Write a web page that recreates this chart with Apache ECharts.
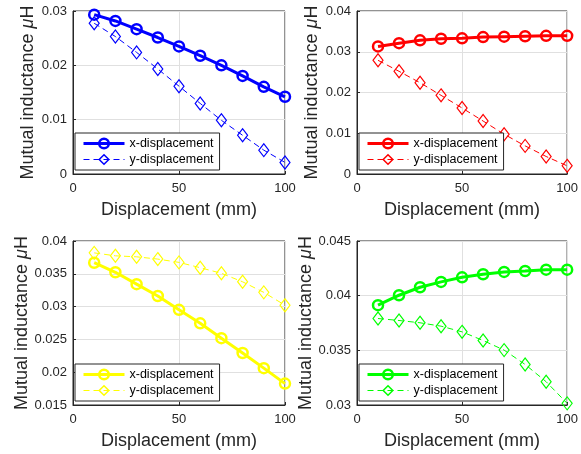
<!DOCTYPE html>
<html>
<head>
<meta charset="utf-8">
<script src="https://cdn.jsdelivr.net/npm/echarts@6/dist/echarts.min.js"></script>
<style>html,body{margin:0;padding:0;background:#fff}#c{width:581px;height:454px}</style>
</head>
<body>
<div id="c"></div>
<script>
var displacement = [10, 20, 30, 40, 50, 60, 70, 80, 90, 100];
var xTicks = [0, 50, 100];

var blueX = [0.02933, 0.02817, 0.02665, 0.02512, 0.02348, 0.02177, 0.0200, 0.01805, 0.01604, 0.01421];
var blueY = [0.02774, 0.0253, 0.02238, 0.01933, 0.01616, 0.01299, 0.00988, 0.00713, 0.00439, 0.00213];

var redX = [0.0313, 0.0321, 0.0328, 0.0332, 0.0333, 0.0336, 0.0337, 0.0338, 0.0339, 0.0339];
var redY = [0.0279, 0.0252, 0.0224, 0.0193, 0.0162, 0.0130, 0.00976, 0.0069, 0.0043, 0.0020];

var yellowX = [0.03669, 0.03523, 0.03342, 0.03162, 0.02951, 0.02745, 0.02519, 0.02293, 0.02062, 0.01826];
var yellowY = [0.03819, 0.03774, 0.03759, 0.03724, 0.03674, 0.03593, 0.03508, 0.03378, 0.03217, 0.03021];

var greenX = [0.03913, 0.04004, 0.04077, 0.04126, 0.04168, 0.04196, 0.04217, 0.04226, 0.04238, 0.04238];
var greenY = [0.03791, 0.03773, 0.03752, 0.03721, 0.03669, 0.0359, 0.03502, 0.03371, 0.03213, 0.03015];

var yRanges = [[0, 0.03, 0.01], [0, 0.04, 0.01], [0.015, 0.04, 0.005], [0.03, 0.045, 0.005]];
var legendNames = ['x-displacement', 'y-displacement'];
var xTitle = 'Displacement (mm)';

var panels = [
  {color: '#0000FF', xs: blueX, ys: blueY},
  {color: '#FF0000', xs: redX, ys: redY},
  {color: '#FFFF00', xs: yellowX, ys: yellowY},
  {color: '#00FF00', xs: greenX, ys: greenY}
];
var boxes = [
  {left: 73, top: 11, width: 212, height: 163},
  {left: 357, top: 11, width: 212, height: 163},
  {left: 73, top: 241, width: 212, height: 164},
  {left: 357, top: 241, width: 212, height: 164}
];

var TXT = '#262626';
var FONT = 'Liberation Sans, Arial, sans-serif';
var CLEAR = 'rgba(255,255,255,0)';

function pairs(vals) {
  return displacement.map(function (d, i) { return [d, vals[i]]; });
}

var grid = [], xAxis = [], yAxis = [], series = [], legend = [];
panels.forEach(function (p, k) {
  var b = boxes[k];
  grid.push({left: b.left, top: b.top, width: b.width, height: b.height, show: true,
    borderColor: TXT, borderWidth: 1, backgroundColor: '#fff'});
  xAxis.push({type: 'value', gridIndex: k, min: 0, max: 100, interval: 50,
    name: xTitle, nameLocation: 'middle', nameGap: 27,
    nameTextStyle: {fontSize: 18, color: TXT, fontFamily: FONT},
    axisLine: {show: true, lineStyle: {color: TXT}},
    axisTick: {show: true, inside: true, length: 3, lineStyle: {color: TXT}},
    axisLabel: {fontSize: 13, color: TXT, fontFamily: FONT, margin: 8},
    splitLine: {show: true, lineStyle: {color: '#e0e0e0', width: 1}}
  });
  var r = yRanges[k];
  yAxis.push({type: 'value', gridIndex: k, min: r[0], max: r[1], interval: r[2],
    name: 'Mutual inductance {mu|μ}H', nameLocation: 'middle', nameGap: 36,
    nameTextStyle: {fontSize: 18, color: TXT, fontFamily: FONT,
      rich: {mu: {fontSize: 18, color: TXT, fontFamily: FONT, fontStyle: 'italic'}}},
    axisLine: {show: true, lineStyle: {color: TXT}},
    axisTick: {show: true, inside: true, length: 3, lineStyle: {color: TXT}},
    axisLabel: {fontSize: 13, color: TXT, fontFamily: FONT, margin: 6,
      formatter: function (v) { return String(parseFloat(v.toFixed(4))); }},
    splitLine: {show: true, lineStyle: {color: '#e0e0e0', width: 1}}
  });
  var nx = legendNames[0] + '#' + k, ny = legendNames[1] + '#' + k;
  series.push({type: 'line', name: nx, xAxisIndex: k, yAxisIndex: k, data: pairs(p.xs),
    symbol: 'circle', symbolSize: 10,
    lineStyle: {color: p.color, width: 3},
    itemStyle: {color: CLEAR, borderColor: p.color, borderWidth: 2.5},
    emphasis: {disabled: true}, animation: false, z: 3});
  series.push({type: 'line', name: ny, xAxisIndex: k, yAxisIndex: k, data: pairs(p.ys),
    symbol: 'diamond', symbolSize: [10, 13],
    lineStyle: {color: p.color, width: 1, type: [6, 4]},
    itemStyle: {color: CLEAR, borderColor: p.color, borderWidth: 1.2},
    emphasis: {disabled: true}, animation: false, z: 2});
  legend.push({
    data: [
      {name: nx, lineStyle: {color: p.color, width: 3, type: 'solid'},
        itemStyle: {color: CLEAR, borderColor: p.color, borderWidth: 2.5}},
      {name: ny, lineStyle: {color: p.color, width: 1.2, type: [6, 4]},
        itemStyle: {color: CLEAR, borderColor: p.color, borderWidth: 1.5}}
    ],
    orient: 'vertical', left: b.left + 2, top: b.top + b.height - 41,
    backgroundColor: '#fff', borderColor: TXT, borderWidth: 1, padding: [4, 6, 4, 7],
    itemWidth: 41, itemHeight: 12, itemGap: 3, selectedMode: false,
    formatter: function (n) { return n.split('#')[0]; },
    textStyle: {fontSize: 12.5, color: '#000', fontFamily: FONT}});
});

var chart = echarts.init(document.getElementById('c'), null, {renderer: 'canvas'});
chart.setOption({animation: false, backgroundColor: '#fff', grid: grid, xAxis: xAxis, yAxis: yAxis, series: series, legend: legend});
</script>
</body>
</html>
